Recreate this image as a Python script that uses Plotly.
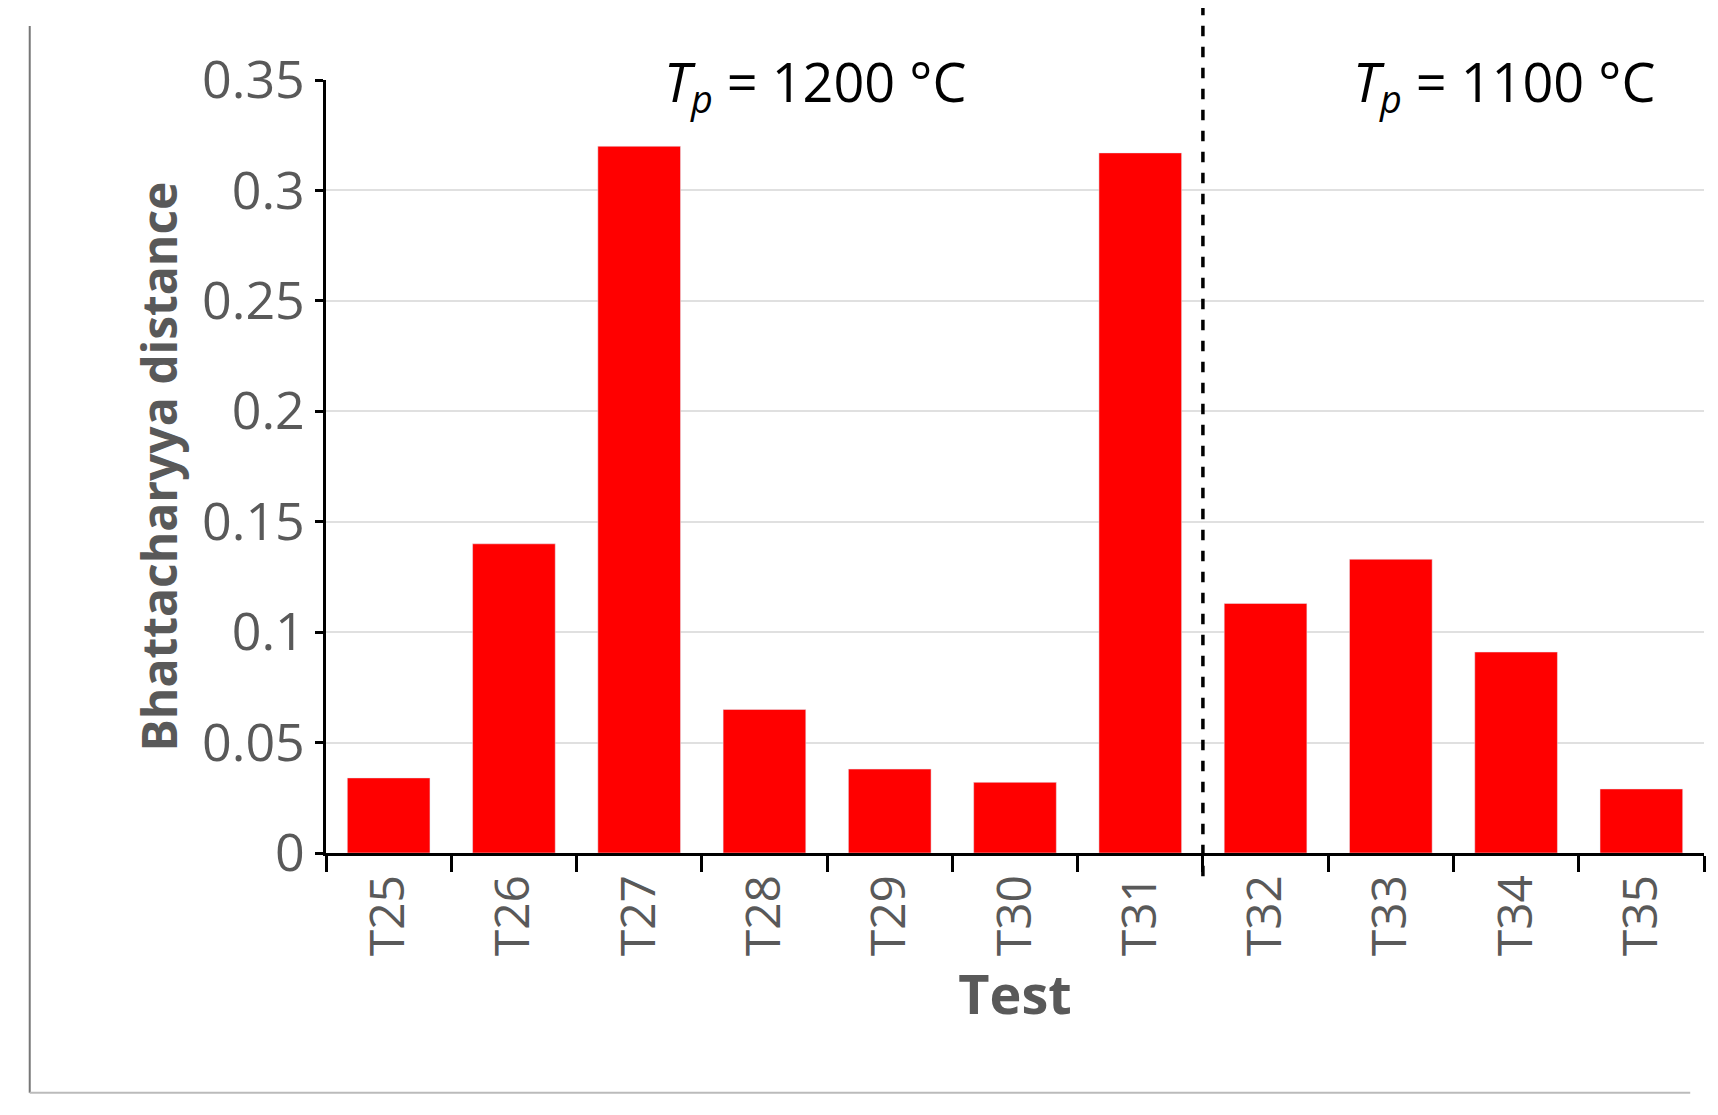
import plotly.graph_objects as go

tests = ["T25", "T26", "T27", "T28", "T29", "T30", "T31", "T32", "T33", "T34", "T35"]
distance = [0.034, 0.140, 0.320, 0.065, 0.038, 0.032, 0.317, 0.113, 0.133, 0.091, 0.029]
yticks = [0, 0.05, 0.1, 0.15, 0.2, 0.25, 0.3, 0.35]
ytick_text = ["0", "0.05", "0.1", "0.15", "0.2", "0.25", "0.3", "0.35"]

fig = go.Figure()
fig.add_trace(go.Bar(x=tests, y=distance, marker_color="#ff0000", width=0.66))

# dashed separator between the two temperature groups
fig.add_shape(type="line", xref="x", yref="paper", x0=6.5, x1=6.5, y0=-0.03, y1=1.1,
              line=dict(color="black", width=3.5, dash="dash"))

fig.add_annotation(x=3.4, y=0.348, xref="x", yref="y", showarrow=False, bgcolor="white",
                   text="<i>T<sub>p</sub></i> = 1200 °C",
                   font=dict(size=54, color="black"))
fig.add_annotation(x=8.9, y=0.348, xref="x", yref="y", showarrow=False, bgcolor="white",
                   text="<i>T<sub>p</sub></i> = 1100 °C",
                   font=dict(size=54, color="black"))

# border lines of the original figure
fig.add_shape(type="line", xref="paper", yref="paper", x0=-0.215, x1=-0.215, y0=-0.31, y1=1.07,
              line=dict(color="#777777", width=2))
fig.add_shape(type="line", xref="paper", yref="paper", x0=-0.215, x1=0.99, y0=-0.31, y1=-0.31,
              line=dict(color="#bbbbbb", width=2))

fig.update_layout(
    width=1718, height=1115,
    plot_bgcolor="white", paper_bgcolor="white",
    font=dict(family="Open Sans, Liberation Sans, sans-serif", color="#595959"),
    margin=dict(l=318, r=22, t=72, b=270),
    showlegend=False,
    bargap=0.34,
    xaxis=dict(title=dict(text="<b>Test</b>", font=dict(size=54, color="#595959"), standoff=4),
               tickangle=-90, tickfont=dict(size=48, color="#595959"),
               showline=True, linecolor="black", linewidth=2.5,
               ticks="outside", ticklen=16, tickwidth=2.5, tickcolor="black",
               tickson="boundaries", showgrid=False),
    yaxis=dict(title=dict(text="<b>Bhattacharyya distance</b>", font=dict(size=48, color="#595959"), standoff=10),
               range=[0, 0.35], tickvals=yticks, ticktext=ytick_text,
               tickfont=dict(size=52, color="#595959"),
               showline=True, linecolor="black", linewidth=2.5,
               ticks="outside", ticklen=8, tickwidth=2.5, tickcolor="black",
               gridcolor="#e0e0e0", gridwidth=1.5, zeroline=False),
)

fig.write_html("out.html")
